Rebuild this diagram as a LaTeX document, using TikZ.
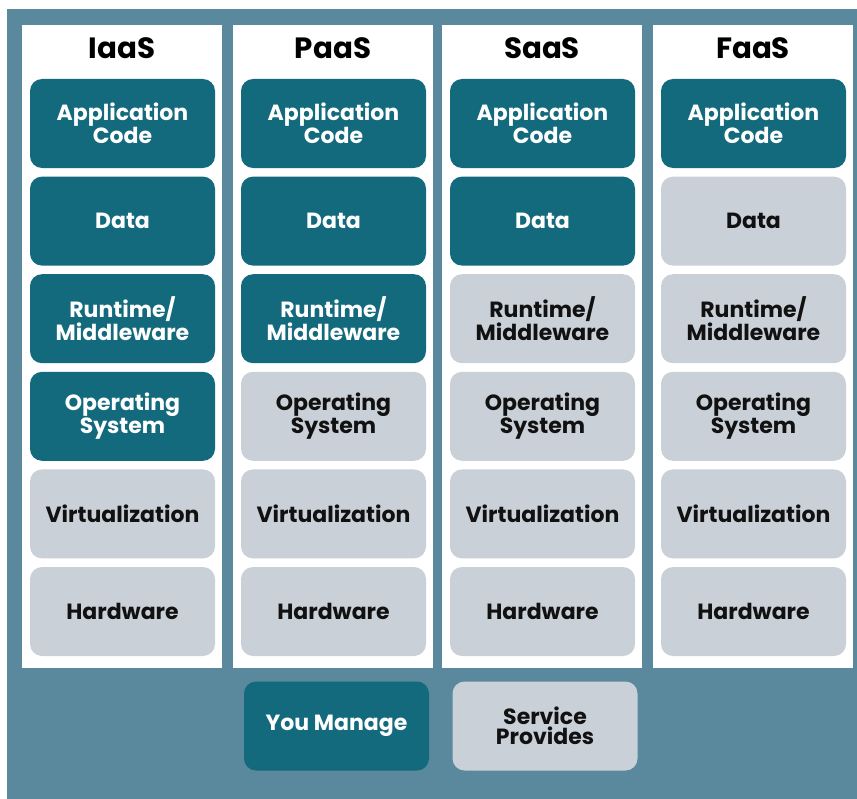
\documentclass[tikz,border=0pt]{standalone}
\usepackage{fontspec}
\setmainfont{Poppins}
\usetikzlibrary{positioning}

\definecolor{panelblue}{HTML}{5A889D}
\definecolor{managedteal}{HTML}{136A7D}
\definecolor{providedgray}{HTML}{C9D0D8}
\definecolor{inkblack}{HTML}{111111}

\tikzset{
  column/.style={fill=white, minimum width=150pt, minimum height=482.25pt, inner sep=0pt},
  heading/.style={font=\bfseries\fontsize{22}{22}\selectfont, text=black},
  layer/.style={rounded corners=9pt, minimum width=138.75pt, minimum height=66.75pt,
    inner sep=0pt, align=center, font=\bfseries\fontsize{16.5}{15.2}\selectfont}
}

\begin{document}
\begin{tikzpicture}[x=0.75pt, y=-0.75pt]
  % Page and panel
  \fill[white] (0,0) rectangle (857,799);
  \fill[panelblue] (7,9) rectangle (857,799);
  \useasboundingbox (0,0) rectangle (857,799);

  % Columns, one per service model
  \foreach \col/\name/\left/\own in {1/IaaS/22/4, 2/PaaS/233/3, 3/SaaS/442/2, 4/FaaS/653/1} {
    \node[column] (col\col) at (\left+100, 346.5) {};
    \node[heading] (head\col) at (\left+100, 48) {\name};
    \foreach \row/\label in {1/{Application\\Code}, 2/Data, 3/{Runtime/\\Middleware},
        4/{Operating\\System}, 5/Virtualization, 6/Hardware} {
      \ifnum\row>\own
        \def\boxfill{providedgray}\def\boxink{inkblack}
      \else
        \def\boxfill{managedteal}\def\boxink{white}
      \fi
      \node[layer, fill=\boxfill, text=\boxink] (box\col-\row)
        at (\left+100.5, 25.9+97.6*\row) {\label};
    }
  }

  % Legend
  \node[layer, fill=managedteal, text=white] (youmanage) at (336.5, 726) {You Manage};
  \node[layer, fill=providedgray, text=inkblack, right=17.25pt of youmanage] (provides)
    {Service\\Provides};
\end{tikzpicture}
\end{document}
